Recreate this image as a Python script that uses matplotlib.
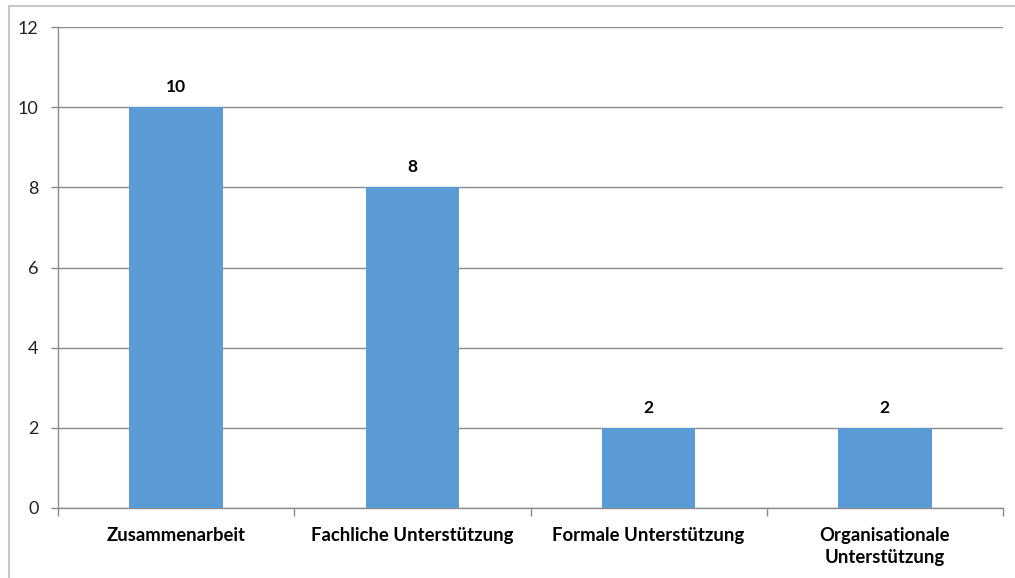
import matplotlib.pyplot as plt
from matplotlib.lines import Line2D

categories = ["Zusammenarbeit", "Fachliche Unterstützung", "Formale Unterstützung",
              "Organisationale\nUnterstützung"]
values = [10, 8, 2, 2]
yticks = [0, 2, 4, 6, 8, 10, 12]

plt.rcParams['font.family'] = ['Lato', 'DejaVu Sans']

fig = plt.figure(figsize=(10.15, 5.78), dpi=100)
# outer chart-area border (only top and left visible in the crop)
top = 1 - 6 / 578
left = 9 / 1015
fig.add_artist(Line2D([left, 1], [top, top], transform=fig.transFigure,
                      color='#c8c8c8', linewidth=1.5))
fig.add_artist(Line2D([left, left], [0, top], transform=fig.transFigure,
                      color='#c8c8c8', linewidth=1.5))

ax = fig.add_axes([58 / 1015, 1 - 508 / 578, (1003 - 58) / 1015, (508 - 27) / 578])

x = list(range(len(categories)))
bars = ax.bar(x, values, width=0.395, color='#5b9bd5', zorder=3)
for b, v in zip(bars, values):
    ax.text(b.get_x() + b.get_width() / 2, v + 0.3, str(v), ha='center', va='bottom',
            fontsize=12.5, fontweight='bold', color='#000000')

ax.set_xlim(-0.5, len(categories) - 0.5)
ax.set_ylim(0, 12)
ax.set_yticks(yticks)
ax.set_yticklabels([str(t) for t in yticks], fontsize=13, color='#222222')
ax.yaxis.grid(True, color='#8c8c8c', linewidth=1, zorder=0)

ax.set_xticks(x)
ax.set_xticklabels(categories, fontsize=13.3, fontweight='bold', color='#000000',
                   linespacing=1.35)
ax.tick_params(axis='x', length=0, pad=14)
ax.set_xticks([i - 0.5 for i in range(len(categories) + 1)], minor=True)
ax.tick_params(axis='x', which='minor', length=6, color='#8c8c8c', width=1)
ax.tick_params(axis='y', length=5, color='#8c8c8c', width=1, pad=9)

for s in ['top', 'right']:
    ax.spines[s].set_visible(False)
for s in ['left', 'bottom']:
    ax.spines[s].set_color('#8c8c8c')
    ax.spines[s].set_linewidth(1)

fig.savefig('out.png', dpi=100)
